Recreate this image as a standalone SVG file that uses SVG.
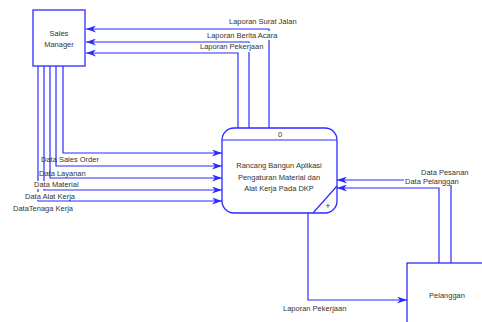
<svg xmlns="http://www.w3.org/2000/svg" width="482" height="322" viewBox="0 0 482 322">
<style>
.ln{fill:none;stroke:#2b2bff;stroke-width:1.2}
.bx{fill:#fff;stroke:#2b2bff;stroke-width:1.3}
.bg{fill:#fff}
text{font-family:"Liberation Sans",Arial,sans-serif;font-size:7.5px;fill:#333}
.c{text-anchor:middle}
</style>
<defs>
<marker id="ah" markerWidth="10" markerHeight="7" refX="10" refY="3.5" orient="auto" markerUnits="userSpaceOnUse">
<path d="M0,0 L10,3.5 L0,7 L3,3.5 z" fill="#2b2bff"/>
</marker>
</defs>
<rect width="482" height="322" fill="#fff"/>
<g id="connectors">
<path class="ln" marker-end="url(#ah)" d="M269,128 V29 H86"/>
<path class="ln" marker-end="url(#ah)" d="M249,128 V42 H86"/>
<path class="ln" marker-end="url(#ah)" d="M238,128 V53 H86"/>
<path class="ln" marker-end="url(#ah)" d="M63,66 V153 H222"/>
<path class="ln" marker-end="url(#ah)" d="M56,66 V166 H222"/>
<path class="ln" marker-end="url(#ah)" d="M50,66 V178 H222"/>
<path class="ln" marker-end="url(#ah)" d="M44,66 V190 H222"/>
<path class="ln" marker-end="url(#ah)" d="M38,66 V201 H222"/>
<path class="ln" marker-end="url(#ah)" d="M451,263 V180 H337"/>
<path class="ln" marker-end="url(#ah)" d="M439,263 V188 H337"/>
<path class="ln" marker-end="url(#ah)" d="M308,213 V300 H407"/>
<rect class="bg" x="228" y="17" width="69" height="9"/>
<text x="229" y="24">Laporan Surat Jalan</text>
<rect class="bg" x="206" y="31" width="72" height="9"/>
<text x="207" y="38">Laporan Berita Acara</text>
<rect class="bg" x="199" y="43" width="63" height="9"/>
<text x="200" y="49">Laporan Pekerjaan</text>
<text x="41" y="162">Data Sales Order</text>
<text x="39" y="176">Data Layanan</text>
<rect class="bg" x="33" y="181" width="47" height="8"/>
<text x="34" y="187">Data Material</text>
<rect class="bg" x="24" y="192" width="52" height="8"/>
<text x="25" y="199">Data Alat Kerja</text>
<text x="13" y="211">DataTenaga Kerja</text>
<text x="421" y="175">Data Pesanan</text>
<rect class="bg" x="404" y="177" width="57" height="8"/>
<text x="405" y="184">Data Pelanggan</text>
<text x="283" y="311">Laporan Pekerjaan</text>
</g>
<g id="sales-manager">
<rect class="bx" x="33" y="10" width="52" height="56"/>
<text class="c" x="59" y="36">Sales</text>
<text class="c" x="59" y="47">Manager</text>
</g>
<g id="process-0">
<rect class="bx" x="222" y="128" width="115" height="85" rx="12"/>
<line class="ln" x1="222" y1="140" x2="337" y2="140"/>
<line class="ln" x1="313" y1="213" x2="337" y2="186"/>
<text class="c" x="280" y="137">0</text>
<text class="c" x="279" y="168">Rancang Bangun Aplikasi</text>
<text class="c" x="279" y="180">Pengaturan Material dan</text>
<text class="c" x="279" y="191">Alat Kerja Pada DKP</text>
<text class="c" x="328" y="209" style="font-size:9px">+</text>
</g>
<g id="pelanggan">
<rect class="bx" x="407" y="263" width="110" height="90"/>
<text class="c" x="447" y="298">Pelanggan</text>
</g>
</svg>
